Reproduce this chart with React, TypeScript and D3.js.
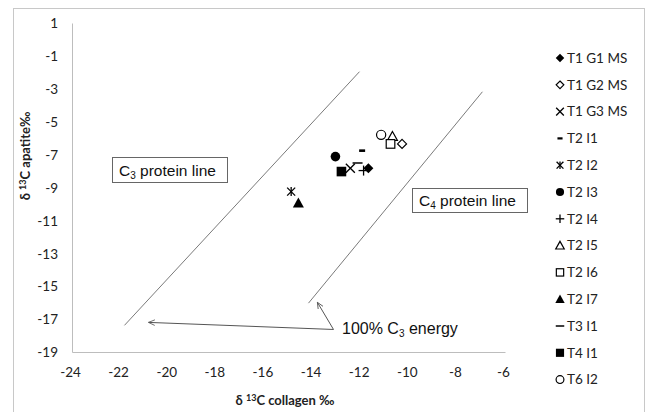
import React from "react";
import * as d3 from "d3";

const seriesNames = ["T1 G1 MS", "T1 G2 MS", "T1 G3 MS", "T2 I1", "T2 I2", "T2 I3", "T2 I4", "T2 I5", "T2 I6", "T2 I7", "T3 I1", "T4 I1", "T6 I2"];
const markerTypes = ["diamondFilled", "diamondOpen", "cross", "dash", "asterisk", "circleFilled", "plus", "triangleOpen", "squareOpen", "triangleFilled", "minus", "squareFilled", "circleOpen"];
const collagenValues = [-11.7, -10.3, -12.45, -11.96, -14.91, -13.07, -11.9, -10.7, -10.78, -14.61, -12.15, -12.82, -11.17];
const apatiteValues = [-7.8, -6.32, -7.8, -6.73, -9.22, -7.09, -7.94, -5.87, -6.32, -9.91, -7.48, -8.0, -5.77];

const xTicks = [-24, -22, -20, -18, -16, -14, -12, -10, -8, -6];
const yTicks = [1, -1, -3, -5, -7, -9, -11, -13, -15, -17, -19];

const c3LineX = [-21.84, -12.07];
const c3LineY = [-17.35, -1.93];
const c4LineX = [-14.19, -6.96];
const c4LineY = [-16.0, -3.15];

const arrowFrom = [-13.15, -17.6];
const arrowTargetsX = [-20.84, -13.82];
const arrowTargetsY = [-17.17, -15.95];

const W = 649;
const H = 412;
const FONT = "Lato, 'Open Sans', sans-serif";
const ARIAL = "'Liberation Sans', Arial, sans-serif";

function Marker({ type, x, y, s = 1 }: { type: string; x: number; y: number; s?: number }) {
  const k = "#000";
  switch (type) {
    case "diamondFilled":
      return <path d={`M${x},${y - 5 * s}L${x + 5 * s},${y}L${x},${y + 5 * s}L${x - 5 * s},${y}Z`} fill={k} />;
    case "diamondOpen":
      return <path d={`M${x},${y - 4.5 * s}L${x + 4.5 * s},${y}L${x},${y + 4.5 * s}L${x - 4.5 * s},${y}Z`} fill="#fff" stroke={k} strokeWidth={1.2} />;
    case "cross":
      return (
        <g stroke={k} strokeWidth={1.3}>
          <line x1={x - 4.5 * s} y1={y - 4.5 * s} x2={x + 4.5 * s} y2={y + 4.5 * s} />
          <line x1={x - 4.5 * s} y1={y + 4.5 * s} x2={x + 4.5 * s} y2={y - 4.5 * s} />
        </g>
      );
    case "dash":
      return <rect x={x - 3 * s} y={y - 1.3 * s} width={6 * s} height={2.6 * s} fill={k} />;
    case "asterisk":
      return (
        <g stroke={k} strokeWidth={1.3}>
          <line x1={x - 4 * s} y1={y - 4 * s} x2={x + 4 * s} y2={y + 4 * s} />
          <line x1={x - 4 * s} y1={y + 4 * s} x2={x + 4 * s} y2={y - 4 * s} />
          <line x1={x} y1={y - 4.5 * s} x2={x} y2={y + 4.5 * s} />
        </g>
      );
    case "circleFilled":
      return <circle cx={x} cy={y} r={4.8 * s} fill={k} />;
    case "plus":
      return (
        <g stroke={k} strokeWidth={1.3}>
          <line x1={x - 5 * s} y1={y} x2={x + 5 * s} y2={y} />
          <line x1={x} y1={y - 5 * s} x2={x} y2={y + 5 * s} />
        </g>
      );
    case "triangleOpen":
      return <path d={`M${x},${y - 5 * s}L${x + 5 * s},${y + 4 * s}L${x - 5 * s},${y + 4 * s}Z`} fill="#fff" stroke={k} strokeWidth={1.2} />;
    case "squareOpen":
      return <rect x={x - 4.3 * s} y={y - 4.3 * s} width={8.6 * s} height={8.6 * s} fill="#fff" stroke={k} strokeWidth={1.2} />;
    case "triangleFilled":
      return <path d={`M${x},${y - 5.5 * s}L${x + 5.5 * s},${y + 4.5 * s}L${x - 5.5 * s},${y + 4.5 * s}Z`} fill={k} />;
    case "minus":
      return <line x1={x - 5 * s} y1={y} x2={x + 5 * s} y2={y} stroke={k} strokeWidth={1.5} />;
    case "squareFilled":
      return <rect x={x - 4.8 * s} y={y - 4.8 * s} width={9.6 * s} height={9.6 * s} fill={k} />;
    case "circleOpen":
      return <circle cx={x} cy={y} r={4.6 * s} fill="#fff" stroke={k} strokeWidth={1.2} />;
    default:
      return null;
  }
}

export default function App() {
  const x = d3.scaleLinear().domain([-24, -6]).range([72.5, 505.5]);
  const y = d3.scaleLinear().domain([1, -19]).range([23.5, 352.5]);
  const line = d3.line<[number, number]>().x((d) => x(d[0])).y((d) => y(d[1]));

  const c3pts: [number, number][] = c3LineX.map((v, i) => [v, c3LineY[i]]);
  const c4pts: [number, number][] = c4LineX.map((v, i) => [v, c4LineY[i]]);

  const ax = x(arrowFrom[0]);
  const ay = y(arrowFrom[1]);

  return (
    <svg width={W} height={H} style={{ position: "absolute", left: 0, top: 0, background: "#fff" }} fontFamily={FONT}>
      <defs>
        <marker id="ah" viewBox="0 0 10 10" refX="9" refY="5" markerWidth="7" markerHeight="7" orient="auto-start-reverse">
          <path d="M0,1L9,5L0,9" fill="none" stroke="#555" strokeWidth={1.2} />
        </marker>
      </defs>
      <rect x={13.5} y={8.5} width={631} height={420} fill="#fff" stroke="#c8c8c8" strokeWidth={1} />

      {/* axes */}
      <line x1={72.5} y1={23.5} x2={72.5} y2={352.5} stroke="#bdbdbd" strokeWidth={1} />
      <line x1={72.5} y1={352.5} x2={505.5} y2={352.5} stroke="#bdbdbd" strokeWidth={1} />

      {yTicks.map((t) => (
        <text key={"y" + t} x={58} y={y(t)} dy="0.35em" textAnchor="end" fontSize={13.5} fill="#222">
          {t}
        </text>
      ))}
      {xTicks.map((t) => (
        <text key={"x" + t} x={x(t) - 2} y={372} dy="0.35em" textAnchor="middle" fontSize={13.5} fill="#222">
          {t}
        </text>
      ))}

      <text x={285} y={405} textAnchor="middle" fontSize={13} fontWeight="bold" fill="#222">
        δ <tspan fontSize={9} dy={-4}>13</tspan>
        <tspan dy={4}>C collagen ‰</tspan>
      </text>
      <text transform="translate(30,156) rotate(-90)" textAnchor="middle" fontSize={13} fontWeight="bold" fill="#222">
        δ <tspan fontSize={9} dy={-4}>13</tspan>
        <tspan dy={4}>C apatite‰</tspan>
      </text>

      {/* protein lines */}
      <path d={line(c3pts) || ""} stroke="#7a7a7a" strokeWidth={1} fill="none" />
      <path d={line(c4pts) || ""} stroke="#7a7a7a" strokeWidth={1} fill="none" />

      {/* boxes */}
      <rect x={112.5} y={157.5} width={115} height={25} fill="#fff" stroke="#666" strokeWidth={1} />
      <text x={119} y={176} fontSize={15.5} fontFamily={ARIAL} fill="#111">
        C<tspan fontSize={10} dy={3}>3</tspan>
        <tspan dy={-3}> protein line</tspan>
      </text>
      <rect x={412.5} y={188.5} width={115} height={24} fill="#fff" stroke="#666" strokeWidth={1} />
      <text x={419} y={206} fontSize={15.5} fontFamily={ARIAL} fill="#111">
        C<tspan fontSize={10} dy={3}>4</tspan>
        <tspan dy={-3}> protein line</tspan>
      </text>

      {/* arrows */}
      {arrowTargetsX.map((tx, i) => (
        <line key={"a" + i} x1={ax} y1={ay} x2={x(tx)} y2={y(arrowTargetsY[i])} stroke="#555" strokeWidth={1} markerEnd="url(#ah)" />
      ))}
      <text x={342} y={334} fontSize={16} fontFamily={ARIAL} fill="#111">
        100% C<tspan fontSize={10} dy={3}>3</tspan>
        <tspan dy={-3}> energy</tspan>
      </text>

      {/* data points */}
      {seriesNames.map((n, i) => (
        <Marker key={"p" + n} type={markerTypes[i]} x={x(collagenValues[i])} y={y(apatiteValues[i])} />
      ))}

      {/* legend */}
      {seriesNames.map((n, i) => {
        const ly = 58 + i * 26.8;
        return (
          <g key={"l" + n}>
            <Marker type={markerTypes[i]} x={560} y={ly} s={0.85} />
            <text x={567} y={ly} dy="0.35em" fontSize={13.5} fill="#222">
              {n}
            </text>
          </g>
        );
      })}
    </svg>
  );
}
